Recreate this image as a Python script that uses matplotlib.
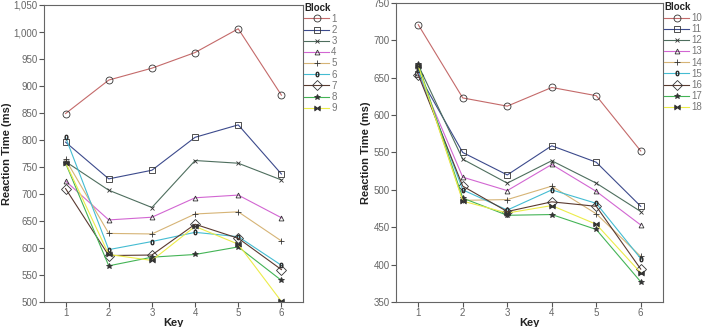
import matplotlib
matplotlib.use("Agg")
import matplotlib.pyplot as plt
from matplotlib.ticker import FuncFormatter, MultipleLocator

plt.rcParams['font.family'] = ['Liberation Sans', 'DejaVu Sans']

keys = [1, 2, 3, 4, 5, 6]

left_blocks = ['1', '2', '3', '4', '5', '6', '7', '8', '9']
left_values = [
    [849, 911, 933, 962, 1006, 883],
    [796, 728, 744, 805, 828, 737],
    [760, 707, 675, 762, 757, 726],
    [724, 652, 657, 693, 698, 656],
    [764, 627, 626, 663, 667, 613],
    [805, 597, 612, 629, 621, 568],
    [710, 586, 587, 644, 618, 560],
    [757, 567, 583, 588, 602, 540],
    [758, 588, 577, 640, 607, 501],
]

right_blocks = ['10', '11', '12', '13', '14', '15', '16', '17', '18']
right_values = [
    [721, 623, 612, 637, 626, 552],
    [655, 550, 520, 559, 537, 478],
    [667, 541, 509, 539, 509, 471],
    [656, 517, 499, 534, 498, 453],
    [665, 486, 487, 505, 468, 411],
    [660, 500, 473, 500, 482, 408],
    [654, 505, 471, 484, 478, 394],
    [668, 489, 466, 467, 447, 377],
    [666, 485, 469, 479, 454, 389],
]

colors = ['#c46a6a', '#3c4a8c', '#4e6e5e', '#d266d2', '#d6b476',
          '#44bcd2', '#5a3a30', '#44b456', '#ecec4a']
markers = ['o', 's', 'x', '^', '+', '$0$', 'D', '*', r'$\bowtie$']
msizes = [5.0, 5.0, 3.2, 3.5, 4.0, 3.6, 5.0, 4.0, 4.0]

fig = plt.figure(figsize=(7.12, 3.27), dpi=100)
W, H = 712, 327
axL = fig.add_axes([44 / W, (H - 302) / H, 259 / W, 297 / H])
axR = fig.add_axes([396 / W, (H - 302) / H, 267 / W, 299 / H])

def draw(ax, names, vals, ylim, ylab_x, leg_anchor):
    for i, (nm, v) in enumerate(zip(names, vals)):
        m = markers[i]
        ax.plot(keys, v, color=colors[i], lw=0.8, marker=m, ms=msizes[i],
                mfc='none' if m != '*' else '#333333',
                mec='#333333', mew=0.6, label=nm)
    ax.set_xlim(0.5, 6.5)
    ax.set_ylim(*ylim)
    ax.yaxis.set_major_locator(MultipleLocator(50))
    ax.set_xticks(keys)
    ax.yaxis.set_major_formatter(FuncFormatter(lambda v, p: f"{int(v):,}"))
    ax.tick_params(axis='both', labelsize=7, colors='#555555', length=3.5,
                   width=0.8, pad=1, labelcolor='#666666')
    for s in ax.spines.values():
        s.set_color('#666666')
        s.set_linewidth(0.8)
    ax.set_ylabel('Reaction Time (ms)', fontsize=8, fontweight='bold', color='#222222')
    ax.yaxis.set_label_coords(ylab_x, 0.5)
    ax.set_xlabel('Key', fontsize=8, fontweight='bold', color='#222222', labelpad=0)
    leg = ax.legend(loc='upper left', bbox_to_anchor=leg_anchor, frameon=False,
                    fontsize=7, title='Block', title_fontproperties={'weight': 'bold', 'size': 7},
                    handlelength=2.6, handletextpad=0.2, labelspacing=0.12,
                    borderpad=0, borderaxespad=0, alignment='left')
    for t in leg.get_texts():
        t.set_color('#777777')
    leg.get_title().set_color('#222222')

draw(axL, left_blocks, left_values, (500, 1050), -0.124, (1.004, 1.008))
draw(axR, right_blocks, right_values, (350, 750), -0.094, (1.004, 1.004))

fig.savefig('out.png', dpi=100)
